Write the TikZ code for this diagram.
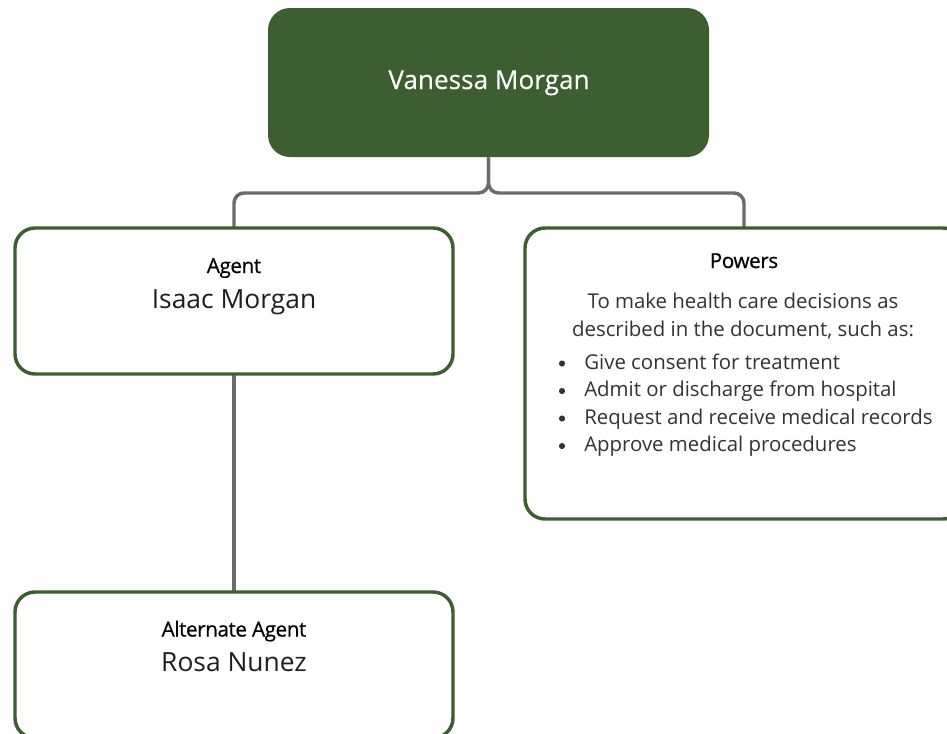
\documentclass[tikz,border=0pt]{standalone}
\usepackage{fontspec}
\setmainfont{Open Sans}
\newfontfamily\headfont{Open Sans}[FakeBold=0.6,LetterSpace=-2]
\newfontfamily\donorfont{Open Sans}[FakeBold=0.3]
\definecolor{leafgreen}{HTML}{3D5E30}
\definecolor{wiregray}{HTML}{6B6B6B}
\definecolor{bodyink}{HTML}{333333}
\definecolor{nameink}{HTML}{1E1E1E}
\tikzset{
  card/.style={draw=leafgreen, line width=2.6pt, rounded corners=15pt, fill=white,
    inner sep=0pt, minimum width=328.5pt},
  wire/.style={draw=wiregray, line width=2.6pt, rounded corners=7.5pt},
  headtxt/.style={anchor=base, inner sep=0pt, font=\headfont\fontsize{15.5}{18}\selectfont},
  nametxt/.style={anchor=base, inner sep=0pt, text=nameink, font=\fontsize{19.8}{22}\selectfont},
  bodytxt/.style={anchor=base, inner sep=0pt, text=bodyink, font=\fontsize{15.3}{18}\selectfont},
  itemtxt/.style={bodytxt, anchor=base west},
  dot/.style={circle, fill=bodyink, inner sep=0pt, minimum size=4.6pt}
}

\begin{document}
\begin{tikzpicture}[x=0.75pt,y=-0.75pt]
  %%%%% START %%%%%
  \useasboundingbox (0,0) rectangle (947,733);
  \clip (0,0) rectangle (947,733);

  % top box
  \node[fill=leafgreen, rounded corners=16.5pt, inner sep=0pt,
        minimum width=330.75pt, minimum height=111.75pt] (donor) at (488.5,82.5) {};
  \node[nametxt, text=white, font=\donorfont\fontsize{19.6}{22}\selectfont] (donorname) at (489,89) {Vanessa Morgan};

  % connectors
  \coordinate (fork) at (489,193);
  \coordinate (agenttop) at (234,228);
  \coordinate (powerstop) at (744,228);
  \draw[wire] (donor.south) |- (agenttop |- fork) -- (agenttop);
  \draw[wire] (donor.south) |- (powerstop |- fork) -- (powerstop);
  \draw[wire] (234,374) -- (234,592);

  % agent
  \node[card, minimum height=109.5pt] (agent) at (234,301) {};
  \node[headtxt] (agenthead) at (234,273) {Agent};
  \node[nametxt] (agentname) at (234,308) {Isaac Morgan};

  % powers
  \node[card, minimum height=218.25pt] (powers) at (744,373.5) {};
  \node[headtxt] (powershead) at (744,268) {Powers};
  \node[bodytxt] (powersline1) at (743,308) {To make health care decisions as};
  \node[bodytxt] (powersline2) at (743,336.5) {described in the document, such as:};
  \node[dot] (dot1) at (562,363.5) {};
  \node[itemtxt] (item1) at (584,369) {Give consent for treatment};
  \node[dot] (dot2) at (562,391) {};
  \node[itemtxt] (item2) at (584,396.5) {Admit or discharge from hospital};
  \node[dot] (dot3) at (562,418.5) {};
  \node[itemtxt] (item3) at (584,424) {Request and receive medical records};
  \node[dot] (dot4) at (562,446) {};
  \node[itemtxt] (item4) at (584,451.5) {Approve medical procedures};

  % alternate agent
  \node[card, minimum height=109.5pt] (alternate) at (234,665) {};
  \node[headtxt] (alternatehead) at (234,636.5) {Alternate Agent};
  \node[nametxt] (alternatename) at (234,671.5) {Rosa Nunez};
  %%%%% END %%%%%
\end{tikzpicture}
\end{document}
